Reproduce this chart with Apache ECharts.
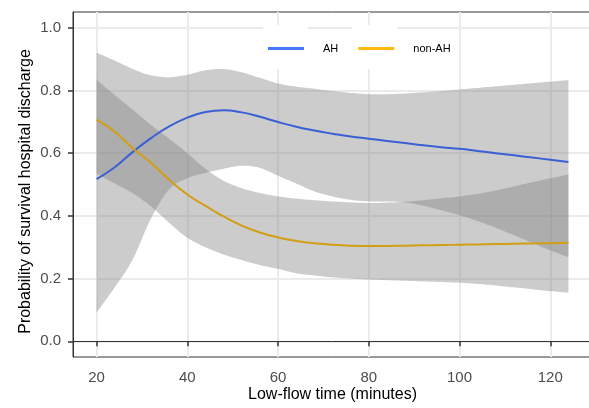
<!DOCTYPE html>
<html><head><meta charset="utf-8">
<script src="https://cdn.jsdelivr.net/npm/echarts@6/dist/echarts.min.js"></script>
<style>html,body{margin:0;padding:0;background:#fff}#c{width:589px;height:408px}</style>
</head><body><div id="c"></div>
<script>
// Low-flow time (minutes)
const time = [20,24,28,32,36,40,44,48,52,56,60,64,68,72,76,80,84,88,92,96,100,104,108,112,116,120,124];
// AH fitted probability and confidence band
const ahFit   = [0.517,0.555,0.604,0.648,0.685,0.713,0.731,0.737,0.730,0.716,0.699,0.684,0.672,0.662,0.653,0.646,0.639,0.632,0.625,0.619,0.614,0.607,0.600,0.593,0.586,0.579,0.572];
const ahLower = [0.092,0.172,0.262,0.392,0.485,0.520,0.537,0.550,0.560,0.553,0.528,0.503,0.478,0.462,0.451,0.446,0.446,0.443,0.432,0.418,0.402,0.383,0.362,0.338,0.314,0.290,0.268];
const ahUpper = [0.920,0.895,0.868,0.848,0.842,0.850,0.864,0.868,0.858,0.840,0.822,0.812,0.805,0.798,0.792,0.788,0.788,0.790,0.794,0.798,0.803,0.808,0.813,0.818,0.823,0.828,0.833];
// non-AH fitted probability and confidence band
const nonFit   = [0.707,0.668,0.615,0.569,0.515,0.468,0.432,0.398,0.369,0.347,0.331,0.320,0.313,0.308,0.305,0.304,0.304,0.305,0.306,0.307,0.308,0.309,0.310,0.311,0.312,0.313,0.314];
const nonLower = [0.535,0.503,0.472,0.430,0.378,0.330,0.300,0.277,0.259,0.243,0.231,0.217,0.210,0.204,0.200,0.197,0.195,0.193,0.191,0.189,0.187,0.183,0.178,0.172,0.166,0.160,0.155];
const nonUpper = [0.834,0.785,0.738,0.690,0.646,0.600,0.550,0.512,0.488,0.473,0.462,0.455,0.450,0.446,0.443,0.441,0.442,0.445,0.450,0.456,0.462,0.470,0.481,0.494,0.507,0.520,0.532];
// axis ticks
const xTicks = [20,40,60,80,100,120];
const yTicks = [0,0.2,0.4,0.6,0.8,1.0];
const groupNames = ['AH','non-AH'];

const pairs = (ys) => time.map((t,i)=>[t, ys[i]]);
const FONT = 'Liberation Sans, Arial, sans-serif';

// Catmull-Rom densify of pixel points (rendering only)
function spline(pts, n) {
  const out = [];
  for (let i = 0; i < pts.length - 1; i++) {
    const p0 = pts[Math.max(i-1,0)], p1 = pts[i], p2 = pts[i+1], p3 = pts[Math.min(i+2, pts.length-1)];
    for (let k = 0; k < n; k++) {
      const t = k / n, t2 = t*t, t3 = t2*t;
      out.push([0,1].map(d => 0.5*((2*p1[d]) + (-p0[d]+p2[d])*t + (2*p0[d]-5*p1[d]+4*p2[d]-p3[d])*t2 + (-p0[d]+3*p1[d]-3*p2[d]+p3[d])*t3)));
    }
  }
  out.push(pts[pts.length-1]);
  return out;
}
function band(lo, hi) {
  return {
    type:'custom', silent:true, z:2, clip:true,
    data: time.map((t,i)=>[t, lo[i], hi[i]]),
    encode:{x:0, y:[1,2]},
    renderItem:(params, api) => {
      if (params.dataIndex !== 0) return null;
      const up = spline(time.map((t,i)=>api.coord([t, hi[i]])), 8);
      const dn = spline(time.map((t,i)=>api.coord([t, lo[i]])), 8).reverse();
      return {type:'polygon', shape:{points: up.concat(dn)}, style:{fill:'rgba(127,127,127,0.4)'}};
    }
  };
}

const chart = echarts.init(document.getElementById('c'), null, {renderer:'canvas'});
chart.setOption({
  animation:false,
  backgroundColor:'#fff',
  grid:{left:73, top:12, bottom:51, right:-3, outerBoundsMode:'none', containLabel:false,
    show:true, borderColor:'#333', borderWidth:1, backgroundColor:'#fff'},
  graphic:[
    {type:'rect', z:1, shape:{x:263, y:25, width:45, height:44}, style:{fill:'#fff'}},
    {type:'rect', z:1, shape:{x:352, y:25, width:45, height:44}, style:{fill:'#fff'}}
  ],
  legend:{
    left:268, top:43, padding:0, itemWidth:36, itemHeight:3, itemGap:20, icon:'rect',
    textStyle:{fontSize:11, color:'#000', fontFamily:FONT, padding:[0,0,0,14]},
    data:[
      {name:groupNames[0], itemStyle:{color:'#4876FF'}},
      {name:groupNames[1], itemStyle:{color:'#FFB90F'}}
    ]
  },
  xAxis:{
    type:'value', min:14.8, max:129.2,
    name:'Low-flow time (minutes)', nameLocation:'middle', nameGap:30, nameMoveOverlap:false,
    nameTextStyle:{fontSize:16, color:'#000', fontFamily:FONT},
    axisLine:{show:true, lineStyle:{color:'#333', width:1}},
    axisTick:{show:true, length:5, lineStyle:{color:'#333', width:1.5}, customValues:xTicks},
    axisLabel:{fontSize:15, color:'#4d4d4d', fontFamily:FONT, margin:13, customValues:xTicks},
    splitLine:{show:true, lineStyle:{color:'#ebebeb', width:2}}
  },
  yAxis:{
    type:'value', min:-0.05, max:1.05,
    name:'Probability of survival hospital discharge', nameLocation:'middle', nameGap:39, nameMoveOverlap:false,
    nameTextStyle:{fontSize:16, color:'#000', fontFamily:FONT, padding:[0,14,0,0]},
    axisLine:{show:true, lineStyle:{color:'#333', width:1}},
    axisTick:{show:true, length:5, lineStyle:{color:'#333', width:1.5}, customValues:yTicks},
    axisLabel:{fontSize:15, color:'#4d4d4d', fontFamily:FONT, margin:12, customValues:yTicks,
      formatter:(v)=>v.toFixed(1)},
    splitLine:{show:true, lineStyle:{color:'#ebebeb', width:2}}
  },
  series:[
    band(ahLower, ahUpper),
    band(nonLower, nonUpper),
    {name:groupNames[0], type:'line', data:pairs(ahFit), smooth:true, symbol:'none', z:3,
      lineStyle:{color:'#3b5fd4', width:2}, itemStyle:{color:'#4876FF'}},
    {name:groupNames[1], type:'line', data:pairs(nonFit), smooth:true, symbol:'none', z:3,
      lineStyle:{color:'#d29e14', width:2}, itemStyle:{color:'#FFB90F'}}
  ]
});
</script>
</body></html>
